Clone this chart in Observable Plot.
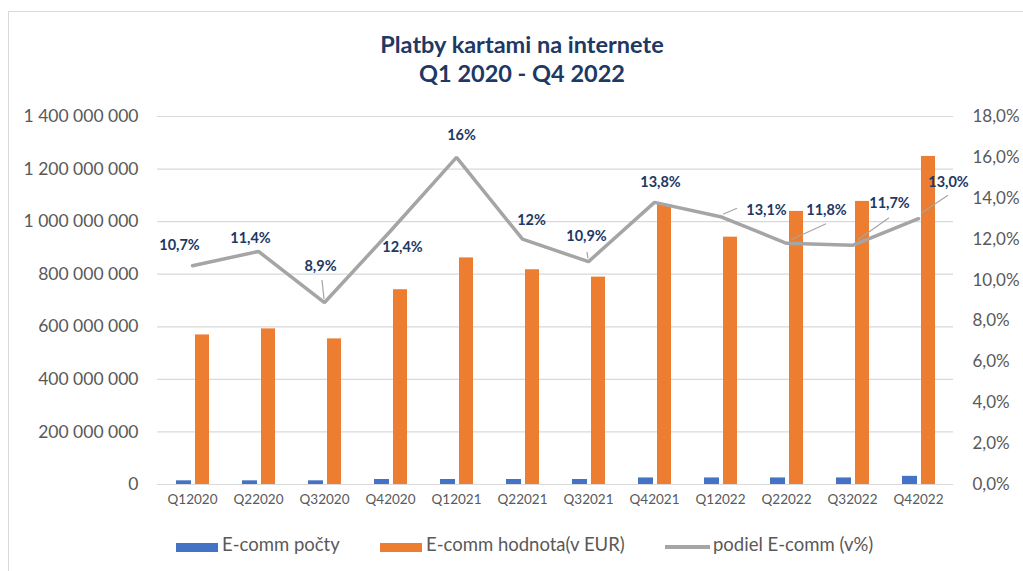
<!DOCTYPE html>
<html><head><meta charset="utf-8">
<script src="https://cdn.jsdelivr.net/npm/d3@7"></script>
<script src="https://cdn.jsdelivr.net/npm/@observablehq/plot@0.6"></script>
<style>
body{margin:0;background:#fff;}
#wrap{position:relative;width:1023px;height:571px;overflow:hidden;font-family:Lato,"Open Sans",sans-serif;background:#fff;}
#frame{position:absolute;left:8px;top:11px;width:1100px;height:700px;border-left:1.5px solid #D9D9D9;border-top:1.5px solid #D9D9D9;}
#title{position:absolute;left:0;width:1044px;top:30px;text-align:center;color:#203864;font-weight:bold;font-size:23.5px;line-height:29px;}
#chart{position:absolute;left:0;top:0;}
.sw{position:absolute;}
.lt{position:absolute;font-size:18.5px;color:#595959;top:534px;line-height:20px;white-space:nowrap;}
</style></head>
<body>
<div id="wrap">
  <div id="frame"></div>
  <div id="chart"></div>
  <div id="title">Platby kartami na internete<br>Q1 2020 - Q4 2022</div>
  <div class="sw" style="left:176px;top:543px;width:42px;height:9px;background:#4472C4"></div>
  <div class="lt" style="left:222px">E-comm počty</div>
  <div class="sw" style="left:380px;top:543px;width:42px;height:9px;background:#ED7D31"></div>
  <div class="lt" style="left:426px">E-comm hodnota(v EUR)</div>
  <div class="sw" style="left:665px;top:545px;width:45px;height:4px;background:#A5A5A5"></div>
  <div class="lt" style="left:713px">podiel E-comm (v%)</div>
</div>
<script>
// ---- data ----
const quarters = ["Q12020","Q22020","Q32020","Q42020","Q12021","Q22021","Q32021","Q42021","Q12022","Q22022","Q32022","Q42022"];
const ecommCount = [14e6,14e6,14e6,19e6,19e6,19e6,19e6,25e6,25e6,25e6,25e6,31e6];
const ecommValue = [569e6,592e6,554e6,741e6,862e6,817e6,789e6,1065e6,941e6,1039e6,1077e6,1248e6];
const ecommShare = [10.7,11.4,8.9,12.4,16,12,10.9,13.8,13.1,11.8,11.7,13.0];
const shareLabels = ["10,7%","11,4%","8,9%","12,4%","16%","12%","10,9%","13,8%","13,1%","11,8%","11,7%","13,0%"];
const leftTicks = [0,2e8,4e8,6e8,8e8,1e9,1.2e9,1.4e9];
const rightTicks = [0,2,4,6,8,10,12,14,16,18];

// ---- layout (label offsets in px relative to each line point) ----
const labelOffsets = [[-13,-20],[-8,-13],[-4,-36],[12,16],[5,-22],[9,-19],[-2,-25],[6,-20],[46,-6],[40,-33],[37,-42],[30,-36]];
const leaderLines = [null,null,[-2,-22,0,-3],null,null,null,[-1,-9,0,-3],null,[3,-2,17,-8],[5,-3,40,-19],[6,-5,37,-27],[3,-5,30,-23]];

const yMax = 1.4e9, pMax = 18;
const toY = p => p * yMax / pMax;
const rows = quarters.map((q,i)=>({q, count:ecommCount[i], value:ecommValue[i], share:ecommShare[i], label:shareLabels[i], i}));
const fmtLeft = v => d3.format(",")(v).replace(/,/g, " ");
const fmtRight = v => (v * pMax / yMax).toFixed(1).replace(".", ",") + "%";

function leaders(index, scales) {
  const g = d3.create("svg:g").attr("stroke", "#A5A5A5").attr("stroke-width", 1.2).attr("fill", "none");
  const step = scales.x(quarters[1]) - scales.x(quarters[0]);
  rows.forEach((d,i) => {
    const L = leaderLines[i];
    if (!L) return;
    const cx = scales.x(d.q) + step/2, cy = scales.y(toY(d.share));
    g.append("line").attr("x1", cx+L[0]).attr("y1", cy+L[1]).attr("x2", cx+L[2]).attr("y2", cy+L[3]);
  });
  return g.node();
}

const chart = Plot.plot({
  width: 1023, height: 571,
  marginLeft: 157, marginRight: 70, marginTop: 116, marginBottom: 87,
  style: {fontFamily: "Lato, 'Open Sans', sans-serif", background: "transparent", color: "#595959"},
  x: {domain: quarters, type: "band", paddingInner: 0, paddingOuter: 0},
  y: {domain: [0, yMax]},
  marks: [
    Plot.gridY(leftTicks, {stroke: "#D9D9D9", strokeOpacity: 1, strokeWidth: 1.2}),
    Plot.axisY(leftTicks, {tickSize: 0, tickPadding: 19, tickFormat: fmtLeft, fontSize: 17.5, label: null}),
    Plot.axisY(rightTicks.map(toY), {anchor: "right", tickSize: 0, tickPadding: 19, tickFormat: fmtRight, fontSize: 17, label: null}),
    Plot.axisX({tickSize: 0, tickPadding: 10, fontSize: 13.5, label: null}),
    Plot.barY(rows, {x: "q", y: "count", fill: "#4472C4", insetLeft: 17, insetRight: 34}),
    Plot.barY(rows, {x: "q", y: "value", fill: "#ED7D31", insetLeft: 36, insetRight: 16}),
    Plot.ruleY([0], {stroke: "#D9D9D9", strokeWidth: 1.2}),
    Plot.lineY(rows, {x: "q", y: d => toY(d.share), stroke: "#A5A5A5", strokeWidth: 3.5, strokeLinejoin: "miter"}),
    leaders,
    ...rows.map((d,i) => Plot.text([d], {x: "q", y: dd => toY(dd.share), text: "label", dx: labelOffsets[i][0], dy: labelOffsets[i][1], fill: "#203864", fontWeight: "bold", fontSize: 14.5}))
  ]
});
document.getElementById("chart").appendChild(chart);
</script>
</body></html>
